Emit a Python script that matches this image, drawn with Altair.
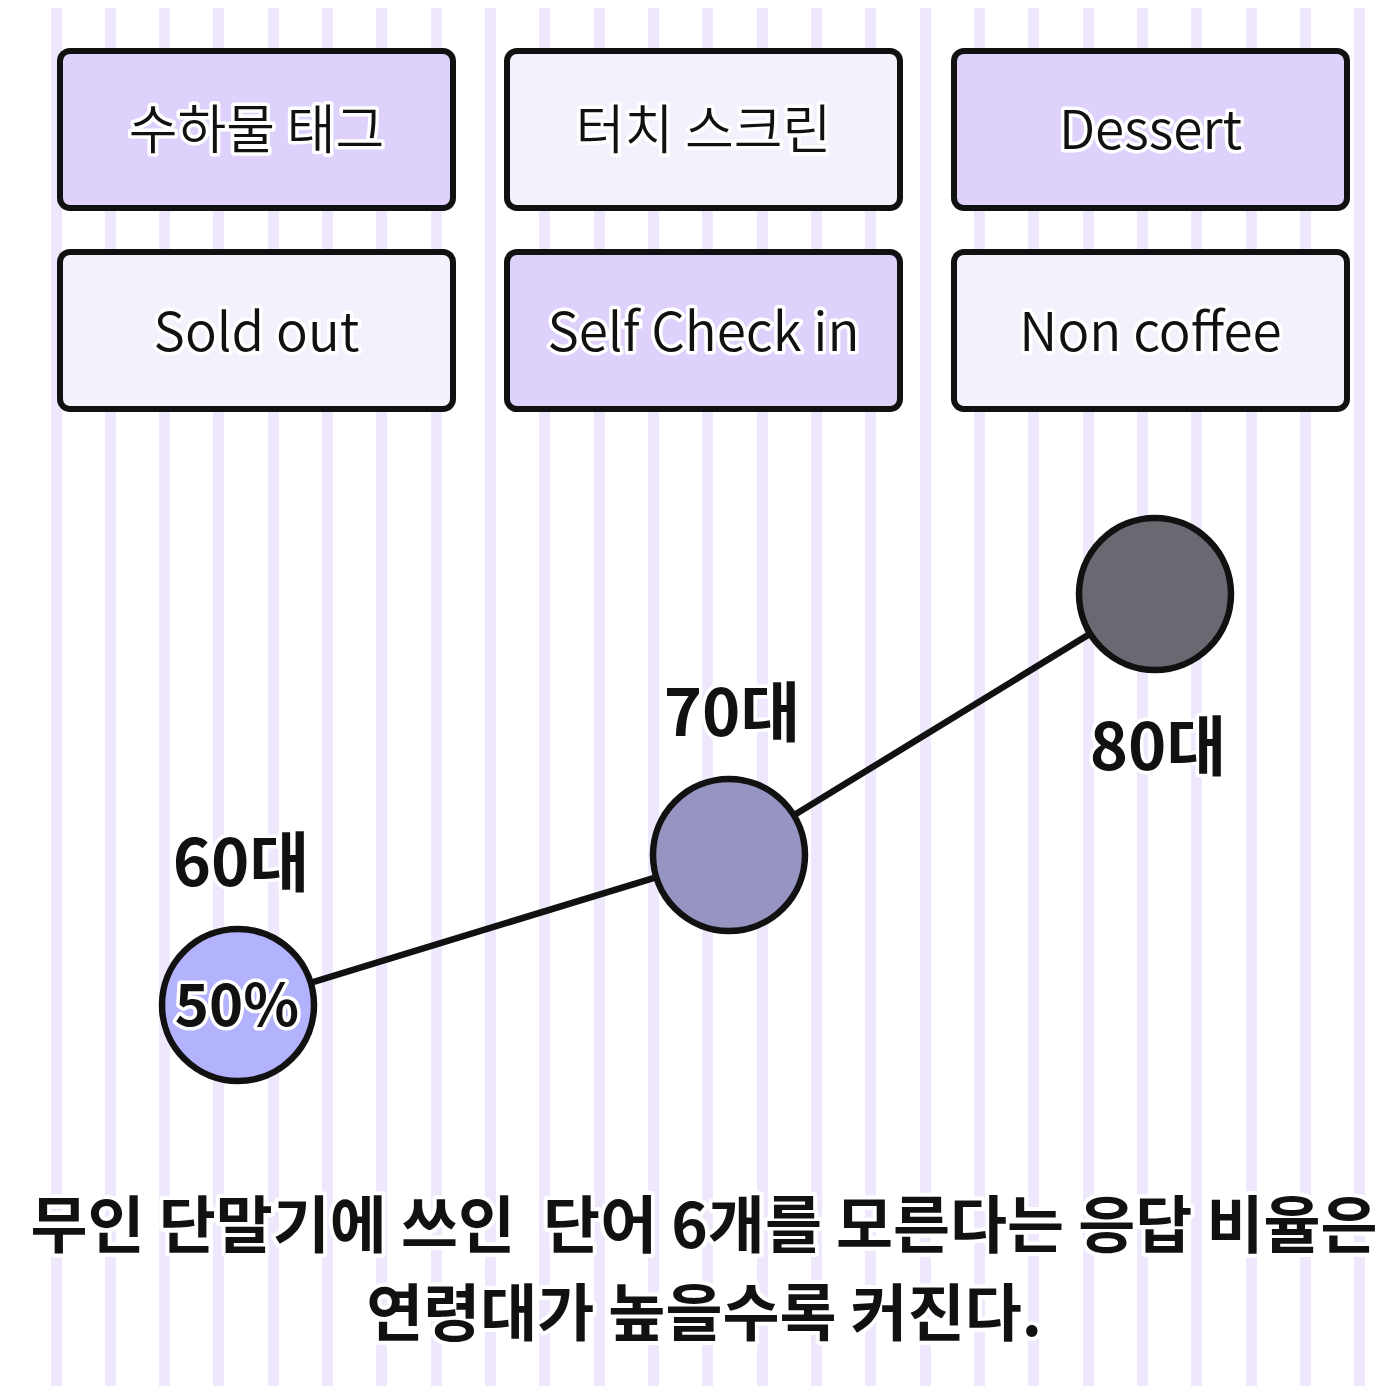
import altair as alt
import pandas as pd

# ---------------- data ----------------
ages = [60, 70, 80]
rates = [50, 60, 77.4]        # % answering "don't know" (only 60s value is printed)
age_colors = ["#B3B2FC", "#9694C1", "#696972"]

box_labels = ["수하물 태그", "터치 스크린", "Dessert", "Sold out", "Self Check in", "Non coffee"]
box_cols = [0, 1, 2, 0, 1, 2]
box_rows = [0, 0, 0, 1, 1, 1]
box_highlight = ["yes", "no", "yes", "no", "yes", "no"]

footer_lines = ["무인 단말기에 쓰인 \u00a0단어 6개를 모른다는 응답 비율은", "연령대가 높을수록 커진다."]
footer_idx = [0, 1]

W, H = 1384, 1378
FONT = "Noto Sans CJK KR"
INK = "#111111"

line_df = pd.DataFrame({"age": ages, "rate": rates})
box_df = pd.DataFrame({"label": box_labels, "col": box_cols, "row": box_rows, "hl": box_highlight})
foot_df = pd.DataFrame({"text": footer_lines, "idx": footer_idx})

# ---------------- background stripes (gradient fill) ----------------
stops = [alt.GradientStop(offset=0, color="white")]
for k in range(25):
    c = 48 + 54.33 * k
    a, b = (c - 5.5) / W, (c + 5.5) / W
    stops += [alt.GradientStop(offset=a, color="white"),
              alt.GradientStop(offset=a, color="#EFE8FD"),
              alt.GradientStop(offset=b, color="#EFE8FD"),
              alt.GradientStop(offset=b, color="white")]
stops.append(alt.GradientStop(offset=1, color="white"))
grad = alt.LinearGradient(gradient="linear", stops=stops, x1=0, x2=1, y1=0, y2=0)

bg = alt.Chart(alt.Data(values=[{"a": 1}])).mark_rect(fill=grad, strokeWidth=0).encode(
    x=alt.value(0), x2=alt.value(W), y=alt.value(0), y2=alt.value(H)
)

# ---------------- boxes ----------------
xb = alt.Scale(type="band", domain=[0, 1, 2], range=[52, 1339], paddingInner=0.1208, paddingOuter=0)
yb = alt.Scale(type="band", domain=[0, 1], range=[43, 401], paddingInner=0.219, paddingOuter=0)

boxes = alt.Chart(box_df).mark_rect(
    cornerRadius=10, stroke=INK, strokeWidth=6
).encode(
    x=alt.X("col:O", scale=xb, axis=None),
    y=alt.Y("row:O", scale=yb, axis=None),
    fill=alt.Fill("hl:N", scale=alt.Scale(domain=["yes", "no"], range=["#DED1FC", "#F4F1FC"]), legend=None),
)

def box_text(color, stroke=None, sw=0):
    kw = dict(font=FONT, fontSize=53, fontWeight={"expr": "350"}, baseline="middle", align="center",
              dy=4, color=color)
    if stroke:
        kw.update(stroke=stroke, strokeWidth=sw, strokeJoin="round")
    return alt.Chart(box_df).mark_text(**kw).encode(
        x=alt.X("col:O", scale=xb, axis=None, bandPosition=0.5),
        y=alt.Y("row:O", scale=yb, axis=None, bandPosition=0.5),
        text="label:N",
    )

# ---------------- line + circles ----------------
xs = alt.Scale(domain=[60, 70, 80], range=[230, 721, 1147], zero=False, nice=False)
ys = alt.Scale(domain=[50, 80], range=[997, 547], zero=False, nice=False)
X = alt.X("age:Q", scale=xs, axis=None)
Y = alt.Y("rate:Q", scale=ys, axis=None)

line = alt.Chart(line_df).mark_line(color=INK, strokeWidth=6.5).encode(x=X, y=Y)
dots = alt.Chart(line_df).mark_circle(size=23104, stroke=INK, strokeWidth=6.5, opacity=1).encode(
    x=X, y=Y,
    color=alt.Color("age:N", scale=alt.Scale(domain=ages, range=age_colors), legend=None),
)

def age_label(cond, dy, color, stroke=None, sw=0):
    kw = dict(font=FONT, fontSize=65, fontWeight="bold", baseline="middle", align="center",
              dy=dy, dx=3, color=color)
    if stroke:
        kw.update(stroke=stroke, strokeWidth=sw, strokeJoin="round")
    return alt.Chart(line_df).transform_filter(cond).transform_calculate(
        lab="datum.age + '대'"
    ).mark_text(**kw).encode(x=X, y=Y, text="lab:N")

def pct_label(color, stroke=None, sw=0):
    kw = dict(font=FONT, fontSize=58, fontWeight="bold", baseline="middle", align="center",
              dy=4, dx=-1, color=color)
    if stroke:
        kw.update(stroke=stroke, strokeWidth=sw, strokeJoin="round")
    return alt.Chart(line_df).transform_filter("datum.age == 60").transform_calculate(
        lab="datum.rate + '%'"
    ).mark_text(**kw).encode(x=X, y=Y, text="lab:N")

# ---------------- footer ----------------
yf = alt.Scale(domain=[0, 1], range=[1240, 1328], zero=False, nice=False)

def footer(color, stroke=None, sw=0):
    kw = dict(font=FONT, fontSize=62, fontWeight="bold", baseline="alphabetic", align="center",
              color=color)
    if stroke:
        kw.update(stroke=stroke, strokeWidth=sw, strokeJoin="round")
    return alt.Chart(foot_df).mark_text(**kw).encode(
        x=alt.value(696),
        y=alt.Y("idx:Q", scale=yf, axis=None),
        text="text:N",
    )

chart = alt.layer(
    bg,
    boxes,
    box_text("white", "white", 7),
    box_text(INK),
    line,
    dots,
    age_label("datum.age < 80", -139, "white", "white", 7),
    age_label("datum.age < 80", -139, INK),
    age_label("datum.age == 80", 156, "white", "white", 7),
    age_label("datum.age == 80", 156, INK),
    pct_label("white", "white", 7),
    pct_label(INK),
    footer("white", "white", 8),
    footer(INK),
).resolve_scale(
    x="independent", y="independent", color="independent", fill="independent"
).properties(
    width=W, height=H, padding=0, autosize=alt.AutoSizeParams(type="none"), background="white"
).configure_view(stroke=None)

chart.save("out.html", embed_options={"renderer": "svg", "actions": False})
